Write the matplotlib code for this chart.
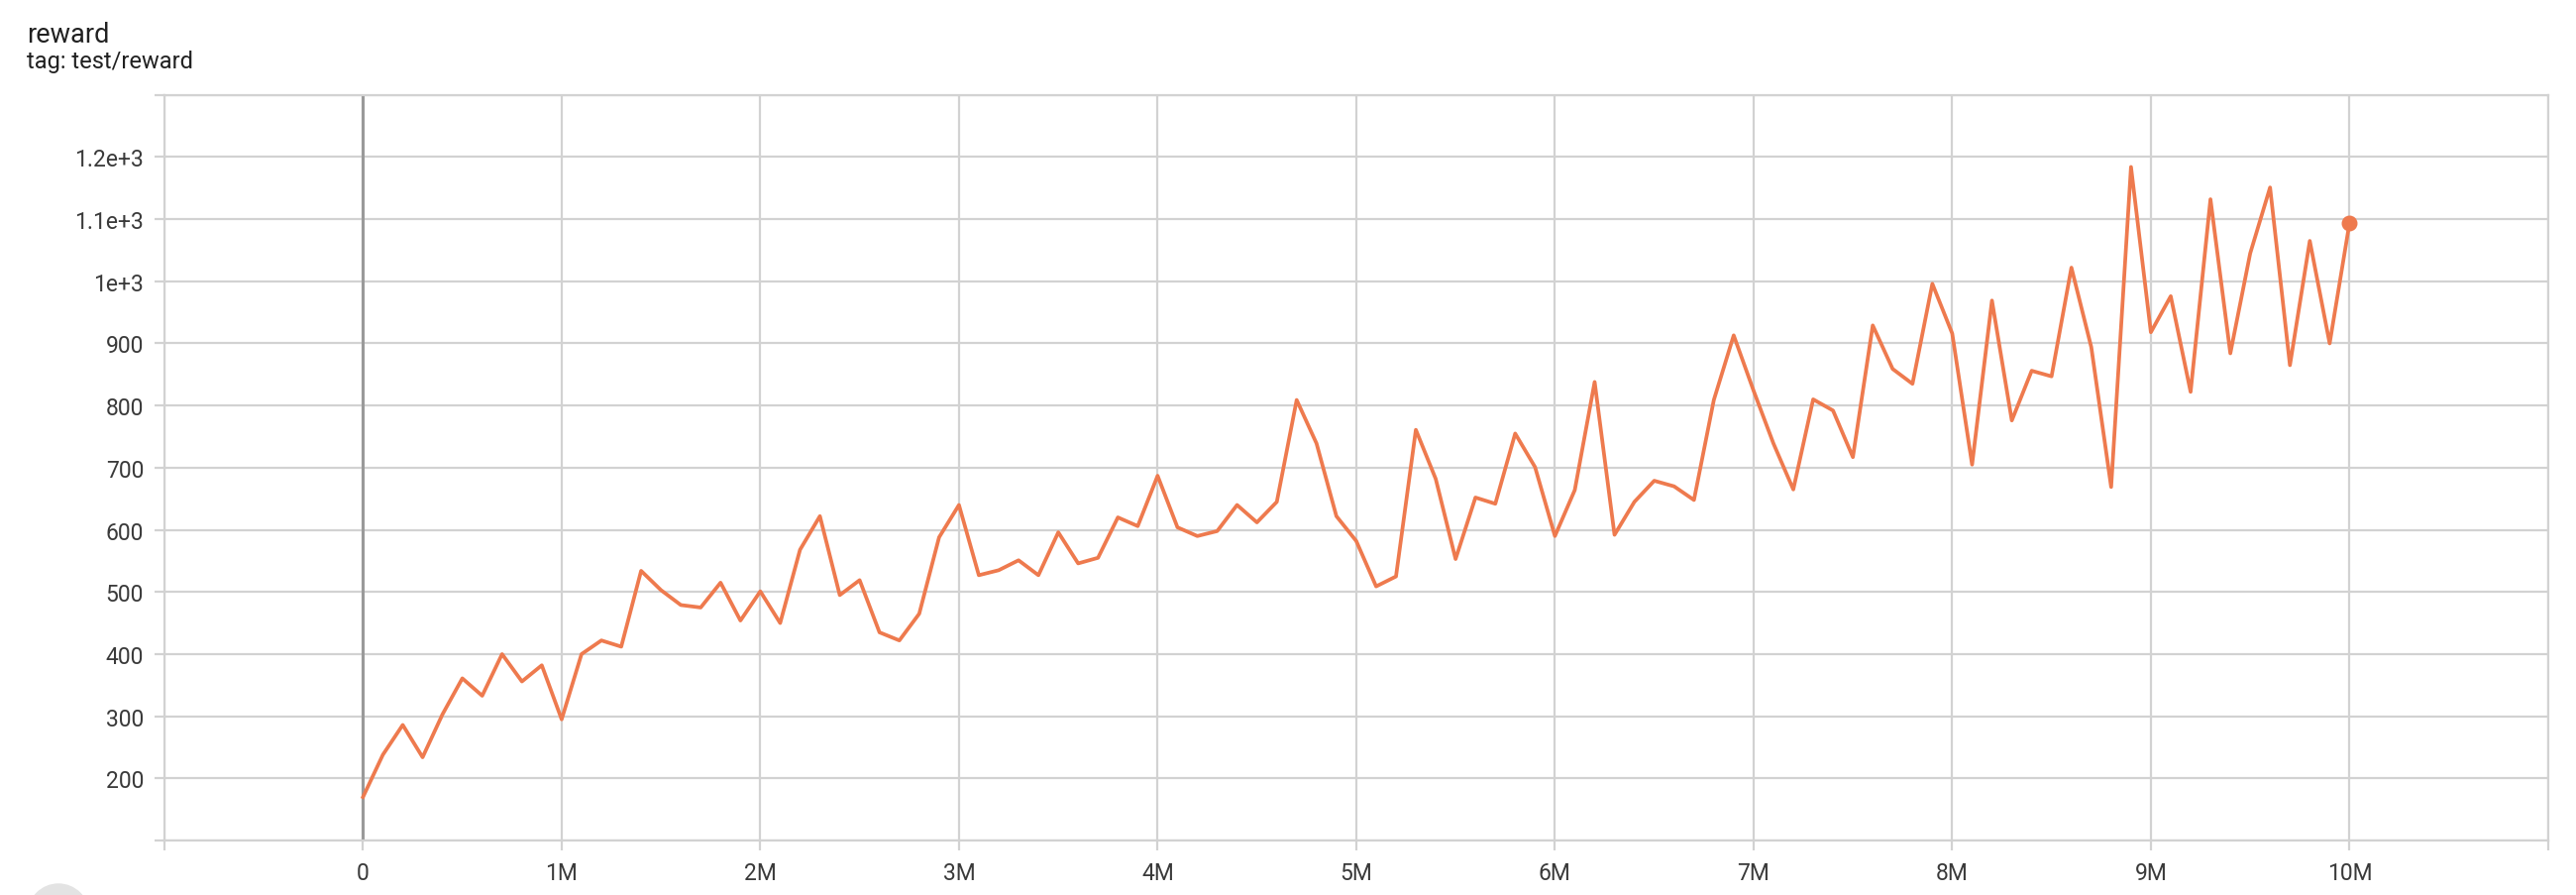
# TensorBoard style scalar plot: test/reward over training steps

import matplotlib
matplotlib.use("Agg")
import matplotlib.pyplot as plt
from matplotlib.patches import Circle
import numpy as np

plt.rcParams['font.family'] = ['Roboto', 'DejaVu Sans']

# one eval every 100k steps
steps = np.arange(101) * 100_000
reward = [
    170, 238, 286, 234, 303, 361, 333, 400, 356, 382,
    295, 400, 422, 412, 534, 503, 479, 475, 515, 454,
    501, 450, 568, 622, 495, 519, 435, 422, 465, 588,
    640, 527, 535, 551, 527, 596, 546, 555, 620, 606,
    687, 604, 590, 598, 640, 612, 645, 809, 739, 622,
    582, 509, 525, 761, 682, 553, 652, 642, 755, 701,
    590, 664, 838, 592, 645, 679, 670, 648, 809, 913,
    824, 739, 665, 810, 792, 717, 929, 859, 835, 996,
    916, 705, 969, 776, 856, 847, 1022, 894, 669, 1184,
    918, 976, 822, 1132, 884, 1045, 1151, 865, 1065, 900,
    1094,
]

x_ticks = np.arange(-1, 12) * 1_000_000
x_labels = [""] + ["0"] + ["%dM" % i for i in range(1, 11)] + [""]
y_ticks = np.arange(100, 1400, 100)
y_labels = ["", "200", "300", "400", "500", "600", "700", "800", "900",
            "1e+3", "1.1e+3", "1.2e+3", ""]

line_color = "#ee7a4e"
grid_color = "#d2d2d2"
text_color = "#3a3a3a"

fig = plt.figure(figsize=(26, 9.04), dpi=100)
ax = fig.add_axes([0.0638, 0.0608, 0.9254, 0.8322])

ax.set_xlim(-1_000_000, 11_000_000)
ax.set_ylim(100, 1300)
ax.set_xticks(x_ticks)
ax.set_xticklabels(x_labels)
ax.set_yticks(y_ticks)
ax.set_yticklabels(y_labels)

ax.grid(True, color=grid_color, linewidth=1.6)
ax.set_axisbelow(True)
for sp in ax.spines.values():
    sp.set_color(grid_color)
    sp.set_linewidth(1.6)

ax.tick_params(axis='both', length=7, width=1.6, color=grid_color,
               labelcolor=text_color, labelsize=16.5, pad=8)

# darker zero line like tensorboard
ax.axvline(0, color="#9a9a9a", linewidth=2.2, zorder=1)

ax.plot(steps, reward, color=line_color, linewidth=2.7, zorder=3)
ax.plot(steps[-1], reward[-1], 'o', color=line_color, markersize=10.5, zorder=4)

fig.text(0.0104, 0.9528, "reward", fontsize=19.5, color="#212121")
fig.text(0.0104, 0.9237, "tag: test/reward", fontsize=17, color="#212121")

# partially visible ui button in the corner
fig.add_artist(Circle((0.59, -0.196), 0.306, transform=fig.dpi_scale_trans,
                      color="#e3e3e3", clip_on=False))

fig.savefig("out.png", dpi=100)
